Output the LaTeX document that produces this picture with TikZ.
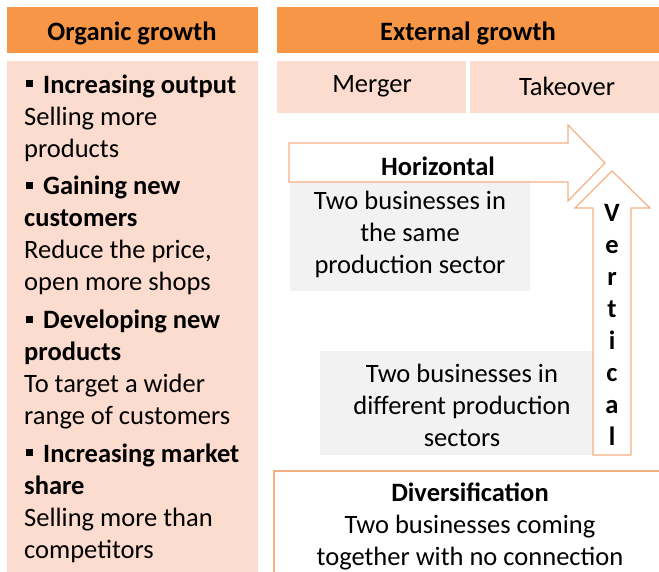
\documentclass[tikz,border=0pt]{standalone}
\usepackage{fontspec}
\setmainfont{Carlito}
\usetikzlibrary{positioning}

\definecolor{headorange}{RGB}{247,150,70}
\definecolor{lightpeach}{RGB}{252,220,206}
\definecolor{lineorange}{RGB}{244,177,131}
\definecolor{boxgray}{RGB}{242,242,242}

\newcommand{\sqbullet}{\hspace{2pt}\raisebox{6pt}{\rule{7pt}{7pt}}\hspace{10pt}}

\begin{document}
\begin{tikzpicture}[
    x=1pt, y=-1pt,
    font=\fontsize{26.5}{32}\selectfont,
    txt/.style={
        inner sep=0pt,
        execute at begin node=\strut,
        execute at end node=\strut
    },
    bold/.style={font=\fontsize{26.5}{32}\selectfont\bfseries},
    head/.style={fill=headorange, draw=none},
    cell/.style={fill=lightpeach, draw=none},
    grey/.style={fill=boxgray, draw=none},
    bigarrow/.style={draw=lineorange, line width=1.2pt, fill=white, line join=miter},
    item/.style={txt, align=left, anchor=north west}
]
\useasboundingbox (0,0) rectangle (659,571);

% ============================================================
% ORGANIC GROWTH
% ============================================================
\fill[head] (7,7) rectangle (258,53);
\fill[cell] (7,61) rectangle (258,580);
\node[bold] (organic) at (132,33) {Organic growth};

\node[item] (output) at (24,74.6)
    {\sqbullet\textbf{Increasing output}\\Selling more\\products};
\node[item, below=9pt of output.south west, anchor=north west] (customers)
    {\sqbullet\textbf{Gaining new}\\\textbf{customers}\\Reduce the price,\\open more shops};
\node[item, below=9pt of customers.south west, anchor=north west] (newprod)
    {\sqbullet\textbf{Developing new}\\\textbf{products}\\To target a wider\\range of customers};
\node[item, below=9pt of newprod.south west, anchor=north west] (share)
    {\sqbullet\textbf{Increasing market}\\\textbf{share}\\Selling more than\\competitors};

% ============================================================
% EXTERNAL GROWTH
% ============================================================
\fill[head] (277,7) rectangle (659,53);
\node[bold] (external) at (468,33) {External growth};

\fill[cell] (277,61) rectangle (466,113);
\fill[cell] (470,61) rectangle (659,113);
\node (merger) at (372,86) {Merger};
\node (takeover) at (567,86) {Takeover};

% grey boxes under the arrows
\fill[grey] (290,182) rectangle (530,291);
\fill[grey] (320,351) rectangle (593,455);

% horizontal and vertical arrows
\draw[bigarrow] (289,143) -- (568,143) -- (568,125) -- (605,163)
    -- (568,201) -- (568,182) -- (289,182) -- cycle;
\draw[bigarrow] (593,455) -- (593,208) -- (575,208) -- (612,171)
    -- (650,208) -- (631,208) -- (631,455) -- cycle;

\node[bold] (horizontal) at (438,166) {Horizontal};
\node[txt, bold, align=center] (vertical) at (612,329.6)
    {V\\e\\r\\t\\i\\c\\a\\l};

\node[txt, align=center] (same) at (410,236.6)
    {Two businesses in\\the same\\production sector};
\node[txt, align=center] (different) at (462,409.6)
    {Two businesses in\\different production\\sectors};

% ============================================================
% DIVERSIFICATION
% ============================================================
\draw[draw=lineorange, line width=1.2pt, fill=white] (274,471) rectangle (680,590);
\node[txt, align=center] (divers) at (470,528.6)
    {\textbf{Diversification}\\Two businesses coming\\together with no connection};

\end{tikzpicture}
\end{document}
